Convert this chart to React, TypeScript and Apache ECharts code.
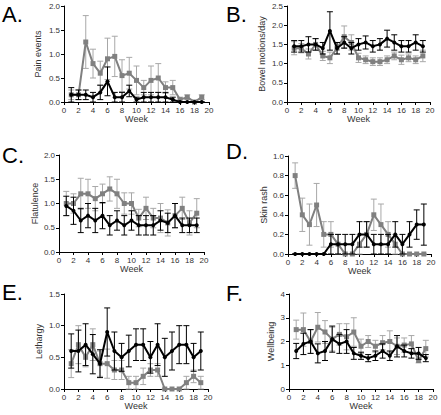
import React, { useEffect, useRef } from "react";
import * as echarts from "echarts";

const weeks = [1, 2, 3, 4, 5, 6, 7, 8, 9, 10, 11, 12, 13, 14, 15, 16, 17, 18, 19];

// A. Pain events
const painGray = [0.15, 0.15, 1.25, 0.8, 0.6, 0.9, 0.95, 0.55, 0.6, 0.45, 0.3, 0.45, 0.5, 0.3, 0.3, 0.05, 0.1, 0.0, 0.1];
const painGrayErr = [0.1, 0.1, 0.55, 0.3, 0.25, 0.43, 0.42, 0.33, 0.33, 0.3, 0.15, 0.3, 0.3, 0.12, 0.15, 0.05, 0.05, 0.0, 0.05];
const painBlack = [0.15, 0.15, 0.15, 0.1, 0.2, 0.43, 0.1, 0.1, 0.23, 0.05, 0.1, 0.1, 0.1, 0.1, 0.05, 0.0, 0.0, 0.0, 0.0];
const painBlackErr = [0.15, 0.1, 0.1, 0.1, 0.15, 0.3, 0.1, 0.1, 0.12, 0.05, 0.1, 0.1, 0.1, 0.1, 0.05, 0.0, 0.0, 0.0, 0.0];

// B. Bowel motions/day
const bowelBlack = [1.45, 1.45, 1.5, 1.5, 1.4, 1.85, 1.4, 1.55, 1.4, 1.5, 1.55, 1.45, 1.5, 1.65, 1.55, 1.45, 1.45, 1.55, 1.45];
const bowelBlackErr = [0.15, 0.15, 0.2, 0.15, 0.15, 0.5, 0.15, 0.15, 0.15, 0.15, 0.17, 0.15, 0.15, 0.22, 0.2, 0.15, 0.15, 0.2, 0.15];
const bowelGray = [1.4, 1.4, 1.25, 1.5, 1.2, 1.15, 1.4, 1.7, 1.55, 1.15, 1.1, 1.05, 1.05, 1.1, 1.2, 1.1, 1.15, 1.1, 1.2];
const bowelGrayErr = [0.17, 0.12, 0.13, 0.15, 0.12, 0.15, 0.15, 0.28, 0.2, 0.12, 0.1, 0.1, 0.1, 0.1, 0.1, 0.12, 0.1, 0.1, 0.15];

// C. Flatulence
const flatGray = [1.0, 1.0, 1.2, 1.2, 1.1, 1.2, 1.3, 1.2, 1.0, 1.0, 0.7, 0.9, 0.7, 0.7, 0.6, 0.75, 0.9, 0.6, 0.8];
const flatGrayErr = [0.25, 0.2, 0.32, 0.3, 0.25, 0.2, 0.25, 0.3, 0.22, 0.22, 0.18, 0.23, 0.2, 0.3, 0.27, 0.25, 0.23, 0.25, 0.3];
const flatBlack = [0.95, 0.85, 0.65, 0.75, 0.65, 0.75, 0.55, 0.65, 0.55, 0.65, 0.55, 0.55, 0.55, 0.65, 0.6, 0.75, 0.55, 0.55, 0.55];
const flatBlackErr = [0.2, 0.28, 0.25, 0.25, 0.25, 0.27, 0.2, 0.2, 0.2, 0.2, 0.2, 0.2, 0.2, 0.2, 0.2, 0.25, 0.15, 0.15, 0.15];

// D. Skin rash
const rashGray = [0.8, 0.4, 0.3, 0.5, 0.2, 0.2, 0.1, 0.0, 0.0, 0.1, 0.2, 0.4, 0.3, 0.2, 0.1, 0.0, 0.0, 0.0, 0.0];
const rashGrayErr = [0.13, 0.17, 0.21, 0.22, 0.13, 0.13, 0.1, 0.0, 0.0, 0.1, 0.13, 0.16, 0.21, 0.13, 0.1, 0.0, 0.0, 0.0, 0.0];
const rashBlack = [0.0, 0.0, 0.0, 0.0, 0.0, 0.1, 0.1, 0.1, 0.1, 0.2, 0.2, 0.1, 0.1, 0.1, 0.2, 0.1, 0.2, 0.3, 0.3];
const rashBlackErr = [0.0, 0.0, 0.0, 0.0, 0.0, 0.1, 0.1, 0.1, 0.1, 0.13, 0.13, 0.1, 0.1, 0.1, 0.13, 0.1, 0.13, 0.15, 0.21];

// E. Lethargy
const lethBlack = [0.6, 0.6, 0.7, 0.55, 0.4, 0.9, 0.6, 0.5, 0.6, 0.7, 0.7, 0.5, 0.7, 0.5, 0.6, 0.7, 0.7, 0.5, 0.6];
const lethBlackErr = [0.27, 0.33, 0.33, 0.31, 0.22, 0.38, 0.3, 0.22, 0.25, 0.25, 0.25, 0.25, 0.33, 0.3, 0.3, 0.3, 0.3, 0.22, 0.3];
const lethGray = [0.4, 0.7, 0.5, 0.7, 0.4, 0.4, 0.3, 0.3, 0.1, 0.1, 0.2, 0.3, 0.3, 0.0, 0.0, 0.0, 0.1, 0.2, 0.1];
const lethGrayErr = [0.22, 0.3, 0.15, 0.25, 0.2, 0.23, 0.15, 0.15, 0.1, 0.1, 0.13, 0.1, 0.1, 0.0, 0.0, 0.0, 0.1, 0.1, 0.1];

// F. Wellbeing
const wellGray = [2.5, 2.5, 2.0, 2.6, 2.4, 2.1, 2.3, 2.2, 2.4, 1.8, 2.0, 1.8, 1.95, 2.0, 1.8, 1.85, 1.9, 1.2, 1.7];
const wellGrayErr = [0.4, 0.7, 0.5, 0.62, 0.48, 0.5, 0.45, 0.55, 0.6, 0.3, 0.25, 0.25, 0.3, 0.45, 0.35, 0.3, 0.35, 0.1, 0.35];
const wellBlack = [1.6, 1.9, 2.0, 1.5, 1.6, 2.1, 1.9, 2.0, 1.5, 1.4, 1.3, 1.4, 1.6, 1.4, 1.8, 1.6, 1.5, 1.5, 1.3];
const wellBlackErr = [0.32, 0.45, 0.5, 0.4, 0.4, 0.55, 0.4, 0.5, 0.25, 0.15, 0.15, 0.2, 0.3, 0.2, 0.45, 0.25, 0.2, 0.25, 0.15];

const panelLabels = ["A.", "B.", "C.", "D.", "E.", "F."];
const yNames = ["Pain events", "Bowel motions/day", "Flatulence", "Skin rash", "Lethargy", "Wellbeing"];
const yMax = [2.0, 2.5, 2.0, 1.0, 1.5, 4];
const yInterval = [0.5, 0.5, 0.5, 0.2, 0.5, 1];
const yDecimals = [1, 1, 1, 1, 1, 0];
const grayMeans = [painGray, bowelGray, flatGray, rashGray, lethGray, wellGray];
const grayErrs = [painGrayErr, bowelGrayErr, flatGrayErr, rashGrayErr, lethGrayErr, wellGrayErr];
const blackMeans = [painBlack, bowelBlack, flatBlack, rashBlack, lethBlack, wellBlack];
const blackErrs = [painBlackErr, bowelBlackErr, flatBlackErr, rashBlackErr, lethBlackErr, wellBlackErr];

// layout (pixels)
const grids = [
  { left: 64, top: 6, width: 145, height: 96 },
  { left: 287, top: 6, width: 143, height: 96 },
  { left: 59, top: 155, width: 145, height: 97 },
  { left: 288, top: 156, width: 143, height: 98 },
  { left: 64, top: 294, width: 144, height: 95 },
  { left: 289, top: 294, width: 144, height: 95 },
];
const nameGaps = [22, 21, 16, 20, 21, 14];
const letterPos = [
  [2, 3], [226, 3], [2, 144], [226, 140], [2, 281], [226, 282],
];

const GRAY = "#808080";
const GRAY_ERR = "#a8a8a8";
const BLACK = "#000000";
const FONT = "Liberation Sans";

function errRender(color: string) {
  return (params: any, api: any) => {
    const x = api.value(0);
    const lo = api.value(2);
    const hi = api.value(3);
    const pLo = api.coord([x, lo]);
    const pHi = api.coord([x, hi]);
    const cap = 3;
    const style = { stroke: color, lineWidth: 1 };
    return {
      type: "group",
      children: [
        { type: "line", shape: { x1: pLo[0], y1: pLo[1], x2: pHi[0], y2: pHi[1] }, style },
        { type: "line", shape: { x1: pHi[0] - cap, y1: pHi[1], x2: pHi[0] + cap, y2: pHi[1] }, style },
        { type: "line", shape: { x1: pLo[0] - cap, y1: pLo[1], x2: pLo[0] + cap, y2: pLo[1] }, style },
      ],
    };
  };
}

export default function App() {
  const ref = useRef<HTMLDivElement>(null);
  useEffect(() => {
    if (!ref.current) return;
    const chart = echarts.init(ref.current, null, { renderer: "svg" });
    const xAxes: any[] = [];
    const yAxes: any[] = [];
    const series: any[] = [];
    const graphics: any[] = [];
    for (let i = 0; i < 6; i++) {
      xAxes.push({
        gridIndex: i,
        type: "value",
        min: 0,
        max: 20,
        interval: 2,
        name: "Week",
        nameLocation: "middle",
        nameGap: 12,
        nameTextStyle: { fontFamily: FONT, fontSize: 9, color: "#333" },
        axisLine: { show: true, onZero: false, lineStyle: { color: "#000", width: 1 } },
        axisTick: { show: true, length: 3, lineStyle: { color: "#000" } },
        axisLabel: { fontFamily: FONT, fontSize: 8, color: "#333", margin: 4 },
        splitLine: { show: false },
      });
      const dec = yDecimals[i];
      yAxes.push({
        gridIndex: i,
        type: "value",
        min: 0,
        max: yMax[i],
        interval: yInterval[i],
        name: yNames[i],
        nameLocation: "middle",
        nameGap: nameGaps[i],
        nameTextStyle: { fontFamily: FONT, fontSize: 9, color: "#333" },
        axisLine: { show: true, lineStyle: { color: "#000", width: 1 } },
        axisTick: { show: true, length: 3, lineStyle: { color: "#000" } },
        axisLabel: {
          fontFamily: FONT,
          fontSize: 8,
          color: "#333",
          margin: 4,
          formatter: (v: number) => v.toFixed(dec),
        },
        splitLine: { show: false },
      });
      const gm = grayMeans[i];
      const ge = grayErrs[i];
      const bm = blackMeans[i];
      const be = blackErrs[i];
      series.push({
        type: "custom",
        xAxisIndex: i,
        yAxisIndex: i,
        renderItem: errRender(GRAY_ERR),
        data: weeks.map((w, k) => [w, gm[k], gm[k] - ge[k], gm[k] + ge[k]]),
        encode: { x: 0, y: [2, 3] },
        clip: false,
        z: 2,
      });
      series.push({
        type: "line",
        xAxisIndex: i,
        yAxisIndex: i,
        data: weeks.map((w, k) => [w, gm[k]]),
        symbol: "rect",
        symbolSize: 5,
        lineStyle: { color: GRAY, width: 2 },
        itemStyle: { color: GRAY },
        z: 3,
      });
      series.push({
        type: "custom",
        xAxisIndex: i,
        yAxisIndex: i,
        renderItem: errRender(BLACK),
        data: weeks.map((w, k) => [w, bm[k], bm[k] - be[k], bm[k] + be[k]]),
        encode: { x: 0, y: [2, 3] },
        clip: false,
        z: 4,
      });
      series.push({
        type: "line",
        xAxisIndex: i,
        yAxisIndex: i,
        data: weeks.map((w, k) => [w, bm[k]]),
        symbol: "circle",
        symbolSize: 4,
        lineStyle: { color: BLACK, width: 2 },
        itemStyle: { color: BLACK },
        z: 5,
      });
      graphics.push({
        type: "text",
        left: letterPos[i][0],
        top: letterPos[i][1],
        style: { text: panelLabels[i], font: `22px "${FONT}"`, fill: "#000" },
      });
    }
    chart.setOption({
      animation: false,
      backgroundColor: "#fff",
      grid: grids,
      xAxis: xAxes,
      yAxis: yAxes,
      series,
      graphic: graphics,
    });
    return () => chart.dispose();
  }, []);
  return (
    <div
      ref={ref}
      style={{ position: "fixed", left: 0, top: 0, width: 441, height: 415 }}
    />
  );
}
